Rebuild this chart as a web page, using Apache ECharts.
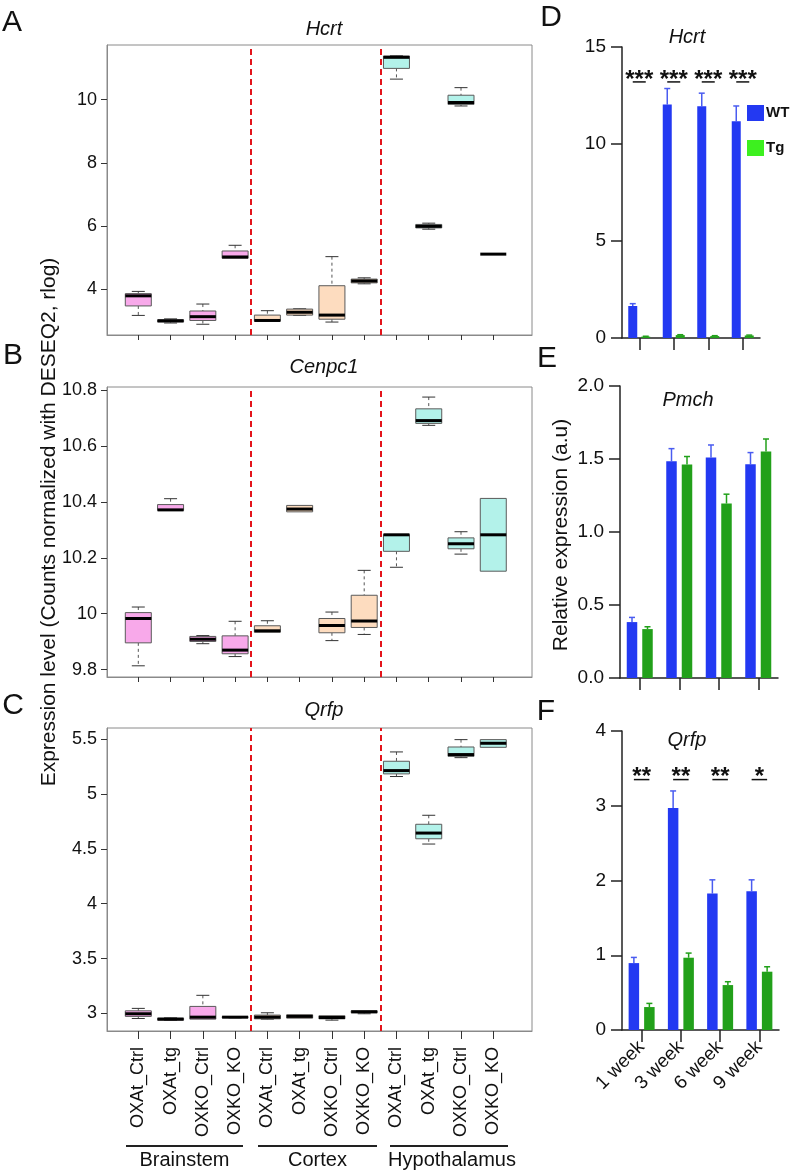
<!DOCTYPE html>
<html>
<head>
<meta charset="utf-8">
<script src="https://cdn.jsdelivr.net/npm/echarts@6.0.0/dist/echarts.min.js"></script>
<style>
  html, body { margin: 0; background: #fff; }
  #chart { width: 793px; height: 1173px; }
</style>
</head>
<body>
<div id="chart"></div>
<script>
// ---- data ----
const groups = ['OXAt_Ctrl', 'OXAt_tg', 'OXKO_Ctrl', 'OXKO_KO',
                'OXAt_Ctrl', 'OXAt_tg', 'OXKO_Ctrl', 'OXKO_KO',
                'OXAt_Ctrl', 'OXAt_tg', 'OXKO_Ctrl', 'OXKO_KO'];
const regions = ['Brainstem', 'Cortex', 'Hypothalamus'];
const positions = [1, 2, 3, 4, 5, 6, 7, 8, 9, 10, 11, 12];
const dividers = [4.5, 8.5];

// [min, q1, median, q3, max]
const hcrtBox = [
  [3.17, 3.47, 3.79, 3.86, 3.93],
  [2.93, 2.96, 3.0, 3.03, 3.06],
  [2.89, 3.01, 3.13, 3.31, 3.53],
  [4.98, 4.98, 5.02, 5.21, 5.39],
  [2.99, 2.99, 3.01, 3.18, 3.32],
  [3.17, 3.18, 3.27, 3.37, 3.38],
  [2.96, 3.05, 3.18, 4.11, 5.03],
  [4.17, 4.2, 4.26, 4.32, 4.36],
  [10.65, 10.99, 11.34, 11.38, 11.39],
  [5.9, 5.94, 5.99, 6.05, 6.09],
  [9.8, 9.85, 9.91, 10.14, 10.38],
  [5.11, 5.11, 5.11, 5.11, 5.11]
];
const cenpc1Box = [
  [9.814, 9.896, 9.983, 10.004, 10.024],
  [10.369, 10.369, 10.371, 10.39, 10.411],
  [9.893, 9.901, 9.909, 9.919, 9.922],
  [9.847, 9.857, 9.87, 9.921, 9.973],
  [9.934, 9.934, 9.939, 9.957, 9.975],
  [10.364, 10.364, 10.374, 10.387, 10.387],
  [9.904, 9.932, 9.958, 9.983, 10.006],
  [9.926, 9.951, 9.974, 10.066, 10.155],
  [10.166, 10.223, 10.282, 10.283, 10.283],
  [10.673, 10.68, 10.69, 10.732, 10.774],
  [10.213, 10.232, 10.25, 10.271, 10.293],
  [10.152, 10.152, 10.282, 10.412, 10.412]
];
const qrfpBox = [
  [2.954, 2.973, 2.997, 3.024, 3.046],
  [2.936, 2.939, 2.948, 2.957, 2.96],
  [2.948, 2.948, 2.966, 3.064, 3.165],
  [2.96, 2.962, 2.966, 2.97, 2.972],
  [2.948, 2.951, 2.966, 2.985, 3.006],
  [2.957, 2.957, 2.973, 2.988, 2.988],
  [2.939, 2.951, 2.963, 2.979, 2.979],
  [2.997, 3.006, 3.015, 3.024, 3.024],
  [5.158, 5.182, 5.212, 5.297, 5.382],
  [4.543, 4.591, 4.643, 4.723, 4.805],
  [5.33, 5.342, 5.358, 5.427, 5.494],
  [5.424, 5.424, 5.461, 5.494, 5.494]
];

const weeks = ['1 week', '3 week', '6 week', '9 week'];
const hcrtWT = [1.65, 12.04, 11.94, 11.17];
const hcrtWTErr = [0.12, 0.82, 0.68, 0.79];
const hcrtTg = [0.07, 0.15, 0.1, 0.13];
const hcrtTgErr = [0.02, 0.02, 0.02, 0.02];
const hcrtStars = ['***', '***', '***', '***'];

const pmchWT = [0.383, 1.485, 1.51, 1.464];
const pmchWTErr = [0.032, 0.086, 0.086, 0.08];
const pmchTg = [0.335, 1.462, 1.195, 1.551];
const pmchTgErr = [0.016, 0.055, 0.064, 0.086];

const qrfpWT = [0.895, 2.971, 1.826, 1.857];
const qrfpWTErr = [0.076, 0.227, 0.183, 0.152];
const qrfpTg = [0.307, 0.967, 0.601, 0.78];
const qrfpTgErr = [0.049, 0.062, 0.045, 0.066];
const qrfpStars = ['**', '**', '**', '*'];

// ---- style ----
const FONT = 'Liberation Sans, Arial, sans-serif';
const regionFill = ['#f8a9ea', '#fddcbf', '#b3f2ea'];
const BLUE = '#2339f2';
const GREEN = '#22a01a';
const LIME = '#3df01f';

const chart = echarts.init(document.getElementById('chart'));

const boxRender = (params, api) => {
  const x = api.value(0);
  const lo = api.value(1), q1 = api.value(2), med = api.value(3), q3 = api.value(4), hi = api.value(5);
  const px = api.coord([x, med])[0];
  const y = (v) => api.coord([x, v])[1];
  const half = 13, cap = 6.5;
  const fill = regionFill[Math.floor((x - 1) / 4)];
  const dash = { stroke: '#555', lineWidth: 1, lineDash: [3, 3] };
  const solid = { stroke: '#333', lineWidth: 1 };
  const kids = [];
  if (hi > q3) {
    kids.push({ type: 'line', shape: { x1: px, y1: y(hi), x2: px, y2: y(q3) }, style: dash });
    kids.push({ type: 'line', shape: { x1: px - cap, y1: y(hi), x2: px + cap, y2: y(hi) }, style: solid });
  }
  if (lo < q1) {
    kids.push({ type: 'line', shape: { x1: px, y1: y(q1), x2: px, y2: y(lo) }, style: dash });
    kids.push({ type: 'line', shape: { x1: px - cap, y1: y(lo), x2: px + cap, y2: y(lo) }, style: solid });
  }
  if (q3 > q1) {
    kids.push({
      type: 'rect',
      shape: { x: px - half, y: y(q3), width: half * 2, height: y(q1) - y(q3) },
      style: { fill: fill, stroke: '#5a5a5a', lineWidth: 1 }
    });
  }
  kids.push({ type: 'line', shape: { x1: px - half, y1: y(med), x2: px + half, y2: y(med) }, style: { stroke: '#000', lineWidth: 3 } });
  return { type: 'group', children: kids };
};

const boxSeries = (idx, data) => ({
  type: 'custom',
  xAxisIndex: idx,
  yAxisIndex: idx,
  renderItem: boxRender,
  data: data.map((b, i) => [positions[i]].concat(b)),
  encode: { x: 0, y: [1, 2, 3, 4, 5] },
  silent: true,
  markLine: {
    symbol: 'none',
    silent: true,
    label: { show: false },
    lineStyle: { color: '#e3141b', type: [6, 4], width: 2 },
    data: dividers.map((d) => ({ xAxis: d }))
  }
});

const barWidth = { 3: 9, 4: 10.5, 5: 10.5 };
const barGapPx = { 3: 4, 4: 5, 5: 5 };

const barSeries = (idx, name, values, color) => ({
  type: 'bar',
  name: name,
  xAxisIndex: idx,
  yAxisIndex: idx,
  data: values,
  barWidth: barWidth[idx],
  barGap: (barGapPx[idx] / barWidth[idx] * 100) + '%',
  itemStyle: { color: color },
  silent: true
});

const errSeries = (idx, values, errs, side, color) => ({
  type: 'custom',
  xAxisIndex: idx,
  yAxisIndex: idx,
  silent: true,
  data: values.map((v, i) => [i, v, errs[i]]),
  renderItem: (params, api) => {
    const off = side * (barWidth[idx] + barGapPx[idx]) / 2;
    const base = api.coord([api.value(0), api.value(1)]);
    const top = api.coord([api.value(0), api.value(1) + api.value(2)]);
    const x = base[0] + off;
    return {
      type: 'group',
      children: [
        { type: 'line', shape: { x1: x, y1: base[1], x2: x, y2: top[1] }, style: { stroke: color, lineWidth: 1.5 } },
        { type: 'line', shape: { x1: x - 3, y1: top[1], x2: x + 3, y2: top[1] }, style: { stroke: color, lineWidth: 1.5 } }
      ]
    };
  }
});

const starSeries = (idx, stars, level) => ({
  type: 'custom',
  xAxisIndex: idx,
  yAxisIndex: idx,
  silent: true,
  data: stars.map((s, i) => [i, level]),
  renderItem: (params, api) => {
    const p = api.coord([api.value(0), api.value(1)]);
    const off = (barWidth[idx] + barGapPx[idx]) / 2;
    return {
      type: 'group',
      children: [
        { type: 'line', shape: { x1: p[0] - off, y1: p[1], x2: p[0] + off, y2: p[1] }, style: { stroke: '#111', lineWidth: 1.5 } },
        { type: 'text', x: p[0], y: p[1] - 2, style: { text: stars[params.dataIndex], font: 'bold 24px ' + FONT, fill: '#111', align: 'center', verticalAlign: 'middle' } }
      ]
    };
  }
});

// ---- axes ----
const leftGrid = (top, height) => ({ left: 107, top: top, width: 425, height: height, show: true, borderColor: '#8a8a8a', borderWidth: 1, backgroundColor: 'transparent' });

const leftX = (idx, withLabels) => ({
  gridIndex: idx,
  type: 'value',
  min: 0.03,
  max: 13.2,
  splitLine: { show: false },
  axisLine: { show: true, onZero: false, lineStyle: { color: '#8a8a8a' } },
  axisTick: { show: true, customValues: positions, length: withLabels ? 8 : 5, lineStyle: { color: '#333' } },
  axisLabel: withLabels
    ? { show: true, customValues: positions, formatter: (v) => groups[Math.round(v) - 1], rotate: 90, fontSize: 18, fontFamily: FONT, color: '#111', margin: 16 }
    : { show: false }
});

const leftY = (idx, min, max, ticks) => ({
  gridIndex: idx,
  type: 'value',
  min: min,
  max: max,
  splitLine: { show: false },
  axisLine: { show: true, onZero: false, lineStyle: { color: '#8a8a8a' } },
  axisTick: { show: true, customValues: ticks, length: 6, lineStyle: { color: '#333' } },
  axisLabel: { customValues: ticks, fontSize: 18, fontFamily: FONT, color: '#111', margin: 10 }
});

const rightX = (idx, withLabels) => ({
  gridIndex: idx,
  type: 'category',
  data: weeks,
  axisLine: { show: true, lineStyle: { color: '#222', width: 1.5 } },
  axisTick: { show: true, interval: 0, alignWithLabel: true, length: 12, lineStyle: { color: '#222', width: 1.5 } },
  axisLabel: withLabels
    ? { show: true, interval: 0, rotate: 45, fontSize: 19, fontFamily: FONT, color: '#111', margin: 14 }
    : { show: false, interval: 0 }
});

const rightY = (idx, max, interval, fmt) => ({
  gridIndex: idx,
  type: 'value',
  min: 0,
  max: max,
  interval: interval,
  splitLine: { show: false },
  axisLine: { show: true, lineStyle: { color: '#222', width: 1.5 } },
  axisTick: { show: true, length: 11, lineStyle: { color: '#222', width: 1.5 } },
  axisLabel: { fontSize: 19, fontFamily: FONT, color: '#111', margin: 16, formatter: fmt }
});

const txt = (text, x, y, font, extra) => Object.assign({
  type: 'text', x: x, y: y, silent: true,
  style: { text: text, font: font, fill: '#111', align: 'center', verticalAlign: 'middle' }
}, extra || {});

const groupLines = [[126, 243], [258, 377], [390, 508]];

chart.setOption({
  animation: false,
  backgroundColor: '#fff',
  grid: [
    leftGrid(45, 290),
    leftGrid(387, 290),
    leftGrid(728, 303),
    { left: 622, top: 47, width: 138, height: 291 },
    { left: 620, top: 386, width: 158, height: 292 },
    { left: 622, top: 731, width: 157, height: 299 }
  ],
  xAxis: [
    leftX(0, false), leftX(1, false), leftX(2, true),
    rightX(3, false), rightX(4, false), rightX(5, true)
  ],
  yAxis: [
    leftY(0, 2.55, 11.73, [4, 6, 8, 10]),
    leftY(1, 9.774, 10.81, [9.8, 10, 10.2, 10.4, 10.6, 10.8]),
    leftY(2, 2.84, 5.6, [3, 3.5, 4, 4.5, 5, 5.5]),
    rightY(3, 15, 5),
    rightY(4, 2, 0.5, (v) => v.toFixed(1)),
    rightY(5, 4, 1)
  ],
  legend: {
    orient: 'vertical',
    left: 747,
    top: 105,
    padding: 0,
    icon: 'rect',
    itemWidth: 17,
    itemHeight: 16,
    itemGap: 19,
    selectedMode: false,
    textStyle: { fontSize: 15, fontWeight: 'bold', fontFamily: FONT, color: '#111', padding: [0, 0, 0, -3] },
    data: [
      { name: 'WT', itemStyle: { color: BLUE } },
      { name: 'Tg', itemStyle: { color: LIME } }
    ]
  },
  series: [
    boxSeries(0, hcrtBox),
    boxSeries(1, cenpc1Box),
    boxSeries(2, qrfpBox),
    barSeries(3, 'WT', hcrtWT, BLUE),
    barSeries(3, 'Tg', hcrtTg, GREEN),
    errSeries(3, hcrtWT, hcrtWTErr, -1, '#4a5cf0'),
    errSeries(3, hcrtTg, hcrtTgErr, 1, GREEN),
    starSeries(3, hcrtStars, 13.2),
    barSeries(4, 'WT', pmchWT, BLUE),
    barSeries(4, 'Tg', pmchTg, GREEN),
    errSeries(4, pmchWT, pmchWTErr, -1, '#4a5cf0'),
    errSeries(4, pmchTg, pmchTgErr, 1, GREEN),
    barSeries(5, 'WT', qrfpWT, BLUE),
    barSeries(5, 'Tg', qrfpTg, GREEN),
    errSeries(5, qrfpWT, qrfpWTErr, -1, '#4a5cf0'),
    errSeries(5, qrfpTg, qrfpTgErr, 1, GREEN),
    starSeries(5, qrfpStars, 3.35)
  ],
  graphic: [
    txt('A', 12, 23, '30px ' + FONT),
    txt('B', 13, 356, '30px ' + FONT),
    txt('C', 13, 706, '30px ' + FONT),
    txt('D', 551, 18, '30px ' + FONT),
    txt('E', 547, 359, '30px ' + FONT),
    txt('F', 546, 712, '30px ' + FONT),
    txt('Hcrt', 324, 29, 'italic 20px ' + FONT),
    txt('Cenpc1', 324, 367, 'italic 20px ' + FONT),
    txt('Qrfp', 324, 710, 'italic 20px ' + FONT),
    txt('Hcrt', 687, 37, 'italic 20px ' + FONT),
    txt('Pmch', 688, 400, 'italic 20px ' + FONT),
    txt('Qrfp', 687, 740, 'italic 20px ' + FONT),
    txt('Expression level (Counts normalized with DESEQ2, rlog)', 49, 522, '21px ' + FONT, { rotation: Math.PI / 2 }),
    txt('Relative expression (a.u)', 561, 535, '21px ' + FONT, { rotation: Math.PI / 2 })
  ].concat(groupLines.map((g, i) => ({
    type: 'line', silent: true,
    shape: { x1: g[0], y1: 1146, x2: g[1], y2: 1146 },
    style: { stroke: '#222', lineWidth: 2 }
  }))).concat(regions.map((r, i) => txt(r, (groupLines[i][0] + groupLines[i][1]) / 2 + (i === 2 ? 3 : 0), 1160, '20px ' + FONT)))
});
</script>
</body>
</html>
